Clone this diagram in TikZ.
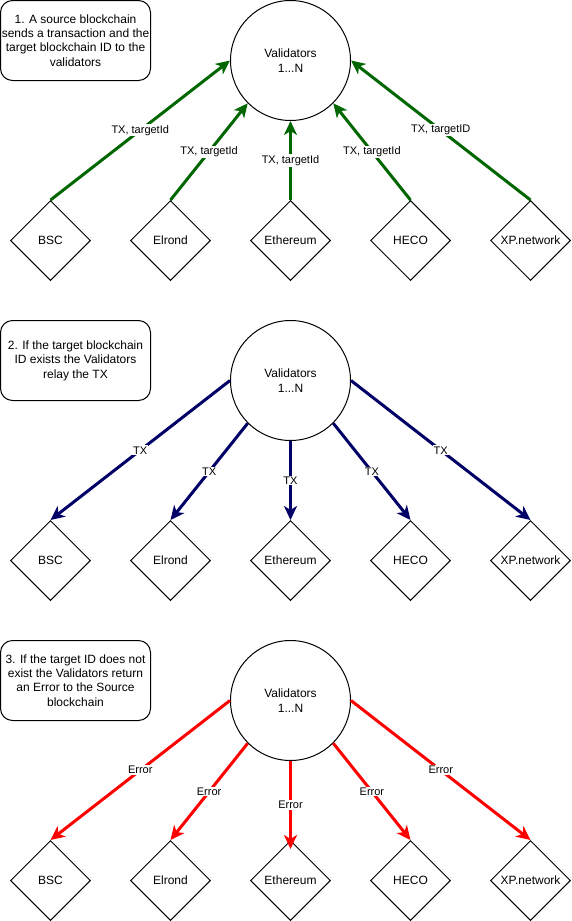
\documentclass[tikz,border=0pt]{standalone}
\usepackage{fontspec}
\setmainfont{Liberation Sans}
\usetikzlibrary{shapes.geometric,arrows.meta}
\definecolor{dgreen}{HTML}{006600}
\definecolor{dnavy}{HTML}{000066}
\definecolor{ered}{HTML}{FF0000}
\begin{document}
\begin{tikzpicture}[x=1pt,y=-1pt,
  note/.style={draw, rounded corners=12pt, minimum width=150pt, minimum height=80pt, inner sep=0pt, align=center, font=\fontsize{12}{14.4}\selectfont, line width=1pt},
  val/.style={draw, circle, minimum size=120pt, inner sep=0pt, align=center, font=\fontsize{12}{14.4}\selectfont, line width=1pt},
  chain/.style={draw, diamond, minimum width=80pt, minimum height=80pt, inner sep=0pt, aspect=1, font=\fontsize{12}{14.4}\selectfont, line width=1pt},
  flow/.style={line width=3pt, -{Stealth[length=14pt,width=13pt,inset=4pt]}},
  lbl/.style={fill=white, inner sep=1pt, text=black, font=\fontsize{11}{13}\selectfont},
]
\useasboundingbox (0,0) rectangle (571,921);

% ---------- section 1 ----------
\node[note] (n1) at (75.5,40.5) {1. A source blockchain\\sends a transaction and the\\target blockchain ID to the\\validators};
\node[val] (v1) at (290.5,60.5) {Validators\\1...N};
\node[chain] (a1) at (50.5,240.5) {BSC};
\node[chain] (b1) at (170.5,240.5) {Elrond};
\node[chain] (c1) at (290.5,240.5) {Ethereum};
\node[chain] (d1) at (410.5,240.5) {HECO};
\node[chain] (e1) at (530.5,240.5) {XP.network};
\draw[flow, dgreen] (a1.north) -- node[lbl]{TX, targetId} (v1.west);
\draw[flow, dgreen] (b1.north) -- node[lbl]{TX, targetId} (v1.south west);
\draw[flow, dgreen] (c1.north) -- node[lbl]{TX, targetId} (v1.south);
\draw[flow, dgreen] (d1.north) -- node[lbl]{TX, targetId} (v1.south east);
\draw[flow, dgreen] (e1.north) -- node[lbl]{TX, targetID} (v1.east);

% ---------- section 2 ----------
\node[note] (n2) at (75.5,360.5) {2. If the target blockchain\\ID exists the Validators\\relay the TX};
\node[val] (v2) at (290.5,380.5) {Validators\\1...N};
\node[chain] (a2) at (50.5,560.5) {BSC};
\node[chain] (b2) at (170.5,560.5) {Elrond};
\node[chain] (c2) at (290.5,560.5) {Ethereum};
\node[chain] (d2) at (410.5,560.5) {HECO};
\node[chain] (e2) at (530.5,560.5) {XP.network};
\draw[flow, dnavy] (v2.west) -- node[lbl]{TX} (a2.north);
\draw[flow, dnavy] (v2.south west) -- node[lbl]{TX} (b2.north);
\draw[flow, dnavy] (v2.south) -- node[lbl]{TX} (c2.north);
\draw[flow, dnavy] (v2.south east) -- node[lbl]{TX} (d2.north);
\draw[flow, dnavy] (v2.east) -- node[lbl]{TX} (e2.north);

% ---------- section 3 ----------
\node[note] (n3) at (75.5,680.5) {3. If the target ID does not\\exist the Validators return\\an Error to the Source\\blockchain};
\node[val] (v3) at (290.5,700.5) {Validators\\1...N};
\node[chain] (a3) at (50.5,880.5) {BSC};
\node[chain] (b3) at (170.5,880.5) {Elrond};
\node[chain] (c3) at (290.5,880.5) {Ethereum};
\node[chain] (d3) at (410.5,880.5) {HECO};
\node[chain] (e3) at (530.5,880.5) {XP.network};
\draw[flow, ered] (v3.west) -- node[lbl]{Error} (a3.north);
\draw[flow, ered] (v3.south west) -- node[lbl]{Error} (b3.north);
\draw[flow, ered] (v3.south) -- node[lbl]{Error} ([yshift=-9pt]c3.north);
\draw[flow, ered] (v3.south east) -- node[lbl]{Error} (d3.north);
\draw[flow, ered] (v3.east) -- node[lbl]{Error} (e3.north);
\end{tikzpicture}
\end{document}
